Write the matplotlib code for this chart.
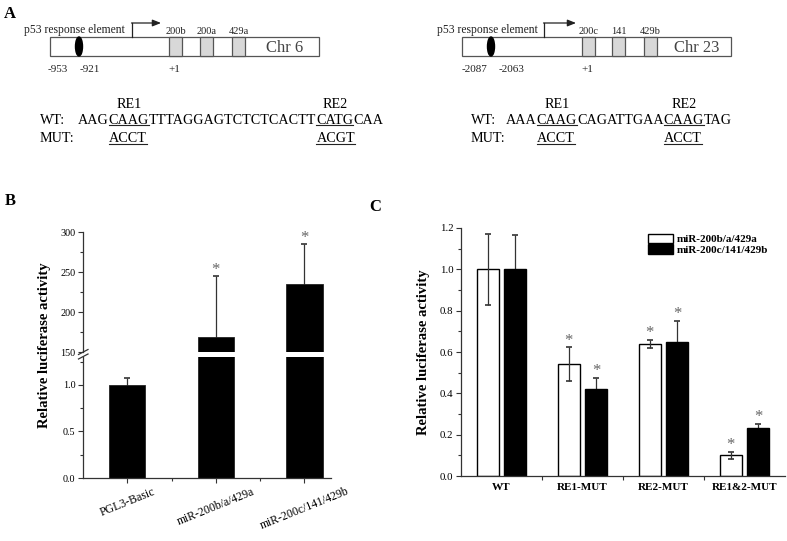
import matplotlib
matplotlib.use('Agg')
import matplotlib.pyplot as plt
from matplotlib.patches import Rectangle, Ellipse, Patch
from matplotlib.ticker import MultipleLocator, FixedLocator

W, H = 787, 541
plt.rcParams['font.family'] = ['Liberation Serif', 'DejaVu Serif']

# ---- panel A: promoter schematics and sequences
left_genes = ['200b', '200a', '429a']
right_genes = ['200c', '141', '429b']
left_sites = ['-953', '-921', '+1']
right_sites = ['-2087', '-2063', '+1']
left_chr = 'Chr 6'
right_chr = 'Chr 23'
left_seq = [('AAG', False), ('CAAG', True), ('TTTAGGAGTCTCTCACTT', False),
            ('CATG', True), ('CAA', False)]
right_seq = [('AAA', False), ('CAAG', True), ('CAGATTGAA', False),
             ('CAAG', True), ('TAG', False)]
left_mut = ['ACCT', 'ACGT']
right_mut = ['ACCT', 'ACCT']
re_names = ['RE1', 'RE2']

# ---- panel B
b_labels = ['PGL3-Basic', 'miR-200b/a/429a', 'miR-200c/141/429b']
b_values = [1.0, 169, 235]
b_errors = [0.075, 76, 50]
b_stars = ['', '*', '*']

# ---- panel C
c_groups = ['WT', 'RE1-MUT', 'RE2-MUT', 'RE1&2-MUT']
c_series = ['miR-200b/a/429a', 'miR-200c/141/429b']
c_vals_a = [1.0, 0.54, 0.64, 0.10]
c_err_a = [0.173, 0.082, 0.02, 0.018]
c_vals_b = [1.0, 0.42, 0.65, 0.23]
c_err_b = [0.165, 0.053, 0.10, 0.024]
c_stars_a = ['', '*', '*', '*']
c_stars_b = ['', '*', '*', '*']


def box(l, t, r, b):
    # pixel box -> figure fraction
    return [l / W, 1 - b / H, (r - l) / W, (b - t) / H]


fig = plt.figure(figsize=(W / 100, H / 100), dpi=100)
cv = fig.add_axes([0, 0, 1, 1])
cv.set_xlim(0, W)
cv.set_ylim(H, 0)
cv.axis('off')
renderer = fig.canvas.get_renderer()

edge = '#555555'


def schematic(x0, x1, ell_x, gene_x, genes, site_x, sites, chr_x, chr_name, arr_x, arr_end, p53_x):
    cv.add_patch(Rectangle((x0, 37), x1 - x0, 19, facecolor='white', edgecolor=edge, lw=0.9))
    cv.add_patch(Ellipse((ell_x, 46.5), 7, 19, facecolor='black', edgecolor='black'))
    for gx, g in zip(gene_x, genes):
        cv.add_patch(Rectangle((gx, 37), 12.5, 19, facecolor='#d8d8d8', edgecolor=edge, lw=0.9))
        cv.text(gx + 6.5, 34.5, g, ha='center', va='baseline', fontsize=7.5, color='#222')
    for sx, s in zip(site_x, sites):
        cv.text(sx, 71.5, s, ha='center', va='baseline', fontsize=8, color='#222')
    cv.text(chr_x, 52.5, chr_name, ha='center', va='baseline', fontsize=12, color='#444')
    cv.plot([arr_x, arr_x], [37, 23], color='#222', lw=0.9)
    cv.annotate('', xy=(arr_end, 23), xytext=(arr_x - 0.5, 23),
                arrowprops=dict(arrowstyle='-|>,head_length=0.5,head_width=0.2',
                                color='#222', lw=0.9, shrinkA=0, shrinkB=0))
    cv.text(p53_x, 32.5, 'p53 response element', ha='center', va='baseline',
            fontsize=8.4, color='#222')


schematic(50, 319, 79, [169, 200, 232], left_genes, [58, 90, 174], left_sites,
          285, left_chr, 132, 161, 74)
schematic(462, 731, 491, [582, 612, 644], right_genes, [475, 512, 587], right_sites,
          697, right_chr, 544, 576, 487)


def sequence(lab_x, seq_x, segs, muts):
    fs = 10.2
    cv.text(lab_x, 123.5, 'WT:', ha='left', va='baseline', fontsize=fs)
    cv.text(lab_x, 142, 'MUT:', ha='left', va='baseline', fontsize=fs)
    x = seq_x
    k = 0
    for s, u in segs:
        t = cv.text(x, 123.5, s, ha='left', va='baseline', fontsize=fs)
        w = t.get_window_extent(renderer).width
        if u:
            cv.plot([x, x + w], [125, 125], color='#222', lw=0.8)
            cv.text(x + w / 2, 107.5, re_names[k], ha='center', va='baseline', fontsize=fs)
            m = cv.text(x, 142, muts[k], ha='left', va='baseline', fontsize=fs)
            mw = m.get_window_extent(renderer).width
            cv.plot([x, x + mw], [143.5, 143.5], color='#222', lw=0.8)
            k += 1
        x += w


sequence(40, 78, left_seq, left_mut)
sequence(471, 506, right_seq, right_mut)

# panel letters
cv.text(4, 18, 'A', fontsize=12, fontweight='bold', ha='left', va='baseline')
cv.text(5, 205, 'B', fontsize=12, fontweight='bold', ha='left', va='baseline')
cv.text(369, 211, 'C', fontsize=12, fontweight='bold', ha='left', va='baseline')

spine_c = '#333333'


def style(ax, sides=('left', 'bottom'), size=7.3):
    for k, sp in ax.spines.items():
        sp.set_visible(k in sides)
        sp.set_color(spine_c)
        sp.set_linewidth(0.9)
    ax.tick_params(which='both', direction='out', color=spine_c, labelsize=size, pad=2)
    ax.tick_params(which='major', length=3.5, width=0.8)
    ax.tick_params(which='minor', length=2, width=0.8)
    ax.patch.set_alpha(0)


# ---- panel B (broken y axis)
xb = list(range(len(b_labels)))
ax_lo = fig.add_axes(box(83, 357, 331, 478))
ax_hi = fig.add_axes(box(83, 232, 331, 352))
for ax in (ax_lo, ax_hi):
    ax.bar(xb, b_values, width=0.41, color='black', edgecolor='#222', lw=0.6, zorder=2)
    ax.errorbar(xb, b_values, yerr=b_errors, fmt='none', ecolor='#333',
                elinewidth=0.9, capsize=2.5, capthick=1.2, zorder=1)
    ax.set_xlim(-0.5, 2.3)
ax_lo.set_ylim(0, 1.3)
ax_hi.set_ylim(150, 300)
style(ax_lo)
style(ax_hi, sides=('left',))
ax_lo.yaxis.set_major_locator(FixedLocator([0.0, 0.5, 1.0]))
ax_lo.yaxis.set_minor_locator(FixedLocator([0.25, 0.75, 1.25]))
ax_lo.set_yticklabels(['0.0', '0.5', '1.0'])
ax_hi.yaxis.set_major_locator(FixedLocator([150, 200, 250, 300]))
ax_hi.yaxis.set_minor_locator(FixedLocator([175, 225, 275]))
ax_hi.set_xticks([])
ax_lo.set_xticks(xb)
ax_lo.xaxis.set_minor_locator(FixedLocator([0.5, 1.5]))
ax_lo.set_xticklabels(b_labels, rotation=22, ha='center', fontsize=8.5)
for x, v, e, s in zip(xb, b_values, b_errors, b_stars):
    if s:
        ax_hi.annotate(s, xy=(x, v + e), xytext=(0, 4), textcoords='offset points',
                       ha='center', va='center', fontsize=12, color='#666')
# break marks
for dy in (0, 4.5):
    cv.plot([78.5, 88], [354.5 + dy, 349.5 + dy], color=spine_c, lw=0.9)
cv.text(45, 345, 'Relative luciferase activity', rotation=90, ha='center', va='center',
        fontsize=10.5, fontweight='bold')

# ---- panel C
ax_c = fig.add_axes(box(461, 228, 785, 476))
xc = list(range(len(c_groups)))
off = 0.17
bw = 0.27
xa = [x - off for x in xc]
xk = [x + off for x in xc]
ax_c.bar(xa, c_vals_a, width=bw, color='white', edgecolor='black', lw=1.0, zorder=2)
ax_c.errorbar(xa, c_vals_a, yerr=c_err_a, fmt='none', ecolor='#333', elinewidth=0.9,
              capsize=2.5, capthick=1.2, zorder=3)
ax_c.bar(xk, c_vals_b, width=bw, color='black', edgecolor='black', lw=1.0, zorder=2)
ax_c.errorbar(xk, c_vals_b, yerr=c_err_b, fmt='none', ecolor='#333', elinewidth=0.9,
              capsize=2.5, capthick=1.2, zorder=1)
for xs, vs, es, ss in ((xa, c_vals_a, c_err_a, c_stars_a), (xk, c_vals_b, c_err_b, c_stars_b)):
    for x, v, e, s in zip(xs, vs, es, ss):
        if s:
            ax_c.annotate(s, xy=(x, v + e), xytext=(0, 5), textcoords='offset points',
                          ha='center', va='center', fontsize=12, color='#666')
ax_c.set_xlim(-0.5, 3.5)
ax_c.set_ylim(0, 1.2)
style(ax_c, size=7.8)
ax_c.yaxis.set_major_locator(MultipleLocator(0.2))
ax_c.yaxis.set_minor_locator(MultipleLocator(0.1))
ax_c.yaxis.set_major_formatter(plt.FuncFormatter(lambda v, p: f'{v:.1f}'))
ax_c.set_xticks(xc)
ax_c.set_xticklabels(c_groups, fontsize=8, fontweight='bold')
ax_c.tick_params(axis='x', which='major', length=0, pad=5)
ax_c.xaxis.set_minor_locator(FixedLocator([0.5, 1.5, 2.5]))
ax_c.tick_params(axis='x', which='minor', length=3)
handles = [Patch(facecolor='white', edgecolor='black', lw=1.0),
           Patch(facecolor='black', edgecolor='black', lw=1.0)]
ax_c.legend(handles, c_series, loc='upper left', bbox_to_anchor=(648 / W, 1 - 234 / H),
            bbox_transform=fig.transFigure, frameon=False, borderpad=0, borderaxespad=0,
            handlelength=2.25, handleheight=0.9, labelspacing=0.0, handletextpad=0.3,
            prop={'weight': 'bold', 'size': 8})
cv.text(423, 352, 'Relative luciferase activity', rotation=90, ha='center', va='center',
        fontsize=10.5, fontweight='bold')

fig.savefig('out.png', dpi=100)
